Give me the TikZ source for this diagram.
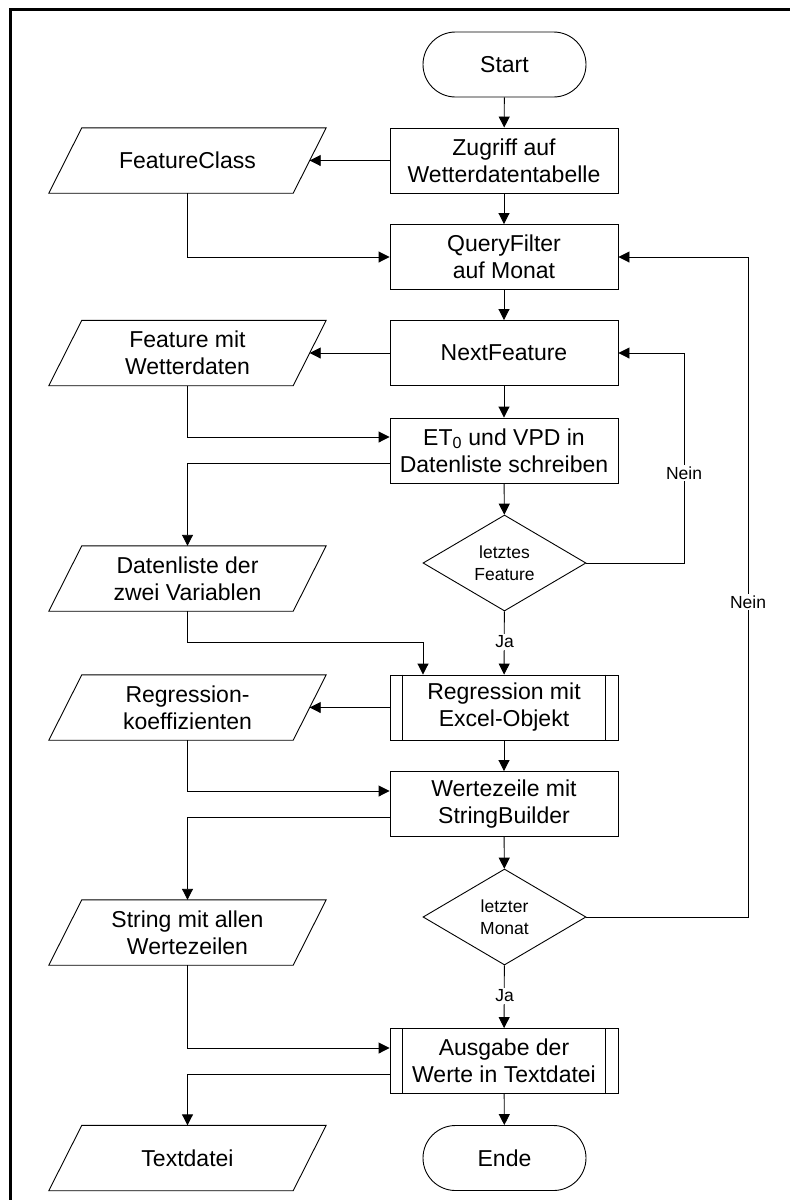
\documentclass[tikz,border=0pt]{standalone}
\usepackage{fontspec}
\setmainfont{Liberation Sans}
\usetikzlibrary{shapes.geometric,arrows.meta}
\begin{document}
\begin{tikzpicture}[x=1pt,y=-1pt,
  base/.style={draw=black, line width=0.9pt, font=\fontsize{23}{27}\selectfont, align=center, inner sep=0pt},
  proc/.style={base, minimum width=228pt, minimum height=65pt},
  term/.style={base, minimum width=163pt, minimum height=65pt, rounded corners=32.5pt},
  io/.style={font=\fontsize{23}{27}\selectfont, align=center, minimum width=244pt, minimum height=65pt, inner sep=0pt},
  dec/.style={diamond, draw=black, line width=0.9pt, minimum width=163pt, minimum height=96pt, inner sep=0pt, font=\fontsize{17.5}{22}\selectfont, align=center},
  lab/.style={fill=white, font=\fontsize{17.5}{20}\selectfont, inner sep=2pt},
  ln/.style={line width=0.9pt},
  arr/.style={line width=0.9pt, -{Triangle[length=11pt,width=11pt]}},
  frame/.style={line width=3pt, line join=miter}
]
\useasboundingbox (0,0) rectangle (790,1200);
\coordinate (ftr) at (790,9);
\coordinate (ftl) at (10.5,9);
\coordinate (fbl) at (10.5,1200);
\draw[frame] (ftr) -- (ftl) -- (fbl);

% main column
\node[term] (start) at (504.5,64.5) {Start};
\node[proc] (zug) at (504,160.5) {Zugriff auf\\Wetterdatentabelle};
\node[proc] (qf) at (504,257) {QueryFilter\\auf Monat};
\node[proc] (nf) at (504,353) {NextFeature};
\node[proc] (et) at (504,450.5) {ET\textsubscript{0} und VPD in\\Datenliste schreiben};
\node[dec] (d1) at (504.5,563) {letztes\\Feature};
\node[proc] (reg) at (504,707.5) {Regression mit\\Excel-Objekt};
\node[proc] (wz) at (504,804) {Wertezeile mit\\StringBuilder};
\node[dec] (d2) at (504.5,917) {letzter\\Monat};
\node[proc] (aus) at (504,1061) {Ausgabe der\\Werte in Textdatei};
\node[term] (ende) at (504.5,1158) {Ende};

% predefined process side bars
\foreach \n in {reg,aus}{
  \draw[ln] ([xshift=13pt]\n.north west) -- ([xshift=13pt]\n.south west);
  \draw[ln] ([xshift=-13pt]\n.north east) -- ([xshift=-13pt]\n.south east);
}

% data (parallelograms)
\node[io] (fc) at (187.5,160.5) {FeatureClass};
\node[io] (fw) at (187.5,353) {Feature mit\\Wetterdaten};
\node[io] (dl) at (187.5,578.5) {Datenliste der\\zwei Variablen};
\node[io] (rk) at (187.5,707.5) {Regression-\\koeffizienten};
\node[io] (str) at (187.5,932.5) {String mit allen\\Wertezeilen};
\node[io] (td) at (187.5,1158) {Textdatei};
\foreach \n in {fc,fw,dl,rk,str,td}{
  \draw[ln] ([xshift=16.5pt]\n.north west) -- ([xshift=16.5pt]\n.north east)
    -- ([xshift=-16.5pt]\n.south east) -- ([xshift=-16.5pt]\n.south west) -- cycle;
}

% helper coordinates
\coordinate (l1a) at (684,563);
\coordinate (l1b) at (684,353);
\coordinate (l2a) at (748,917);
\coordinate (l2b) at (748,257);
\coordinate (dlj) at (423,642);

% connectors main column
\draw[arr] (start) -- (zug);
\draw[arr] (zug) -- (qf);
\draw[arr] (qf) -- (nf);
\draw[arr] (nf) -- (et);
\draw[arr] (et) -- (d1);
\draw[arr] (d1) -- (reg);
\draw[arr] (reg) -- (wz);
\draw[arr] (wz) -- (d2);
\draw[arr] (d2) -- (aus);
\draw[arr] (aus) -- (ende);

% outputs to data
\draw[arr] (zug.west) -- (fc.east);
\draw[arr] (nf.west) -- (fw.east);
\draw[arr] (reg.west) -- (rk.east);
\draw[arr] ([yshift=-12.5pt]et.west) -| (dl.north);
\draw[arr] ([yshift=-13pt]wz.west) -| (str.north);
\draw[arr] ([yshift=-13pt]aus.west) -| (td.north);

% data inputs
\draw[arr] (fc.south) |- (qf.west);
\draw[arr] (fw.south) |- ([yshift=13.5pt]et.west);
\draw[arr] (dl.south) |- (dlj) -- (dlj |- reg.north);
\draw[arr] (rk.south) |- ([yshift=13pt]wz.west);
\draw[arr] (str.south) |- ([yshift=13pt]aus.west);

% loops
\draw[arr] (d1.east) -- (l1a) -- (l1b) -- (nf.east);
\draw[arr] (d2.east) -- (l2a) -- (l2b) -- (qf.east);

% labels
\node[lab] (n1) at (684,473) {Nein};
\node[lab] (n2) at (748,602) {Nein};
\node[lab] (j1) at (504.5,642) {Ja};
\node[lab] (j2) at (504.5,996) {Ja};
\end{tikzpicture}
\end{document}
